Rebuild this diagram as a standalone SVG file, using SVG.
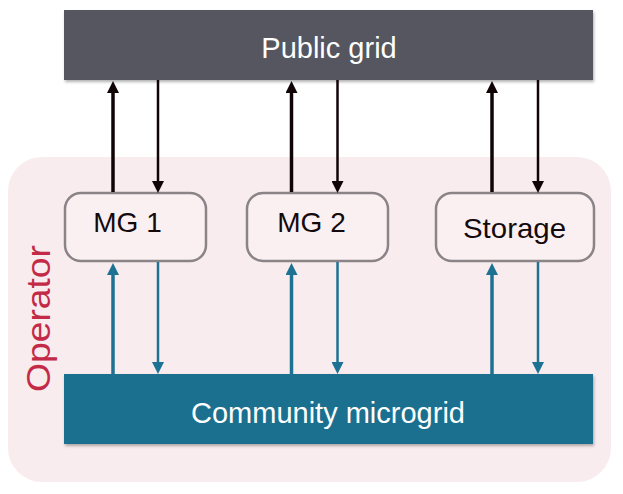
<svg xmlns="http://www.w3.org/2000/svg" width="623" height="494" viewBox="0 0 623 494">
<defs>
<style>
.bar{filter:url(#sh)}
.box{fill:#fbf0f1;stroke:#8a8488;stroke-width:2.5}
.lbl{font-family:"Liberation Sans",Arial,sans-serif;text-anchor:middle}
.w{fill:#ffffff;font-size:29px}
.k{fill:#140a0e;font-size:28px}
.blk{stroke:#100407;fill:none}
.tea{stroke:#1d7192;fill:none}
.up{stroke-width:3.5}
.dn{stroke-width:2.5}
</style>
<filter id="sh" x="-5%" y="-10%" width="110%" height="130%">
<feDropShadow dx="1" dy="2" stdDeviation="1.5" flood-color="#000" flood-opacity="0.3"/>
</filter>
<marker id="hb" viewBox="0 0 12 12" refX="0" refY="6" markerWidth="12" markerHeight="12" markerUnits="userSpaceOnUse" orient="auto">
<path d="M0,0 L12,6 L0,12 z" fill="#100407"/>
</marker>
<marker id="ht" viewBox="0 0 12 12" refX="0" refY="6" markerWidth="12" markerHeight="12" markerUnits="userSpaceOnUse" orient="auto">
<path d="M0,0 L12,6 L0,12 z" fill="#1d7192"/>
</marker>
</defs>
<rect width="623" height="494" fill="#ffffff"/>
<g id="operator">
<rect x="8" y="157" width="603" height="325" rx="34" ry="34" fill="#f9ecee"/>
<text class="lbl" transform="translate(50,318.5) rotate(-90)" font-size="34" fill="#c32a47" textLength="147" lengthAdjust="spacingAndGlyphs">Operator</text>
</g>
<g id="public-grid">
<rect class="bar" x="64" y="10" width="529" height="70" fill="#54575f"/>
<text class="lbl w" x="329" y="58">Public grid</text>
</g>
<g id="community-microgrid">
<rect class="bar" x="64" y="374" width="529" height="70" fill="#1a6f8f"/>
<text class="lbl w" x="328" y="423">Community microgrid</text>
</g>
<g id="mg1">
<rect class="box" x="65" y="193" width="141" height="68" rx="16" ry="16"/>
<text class="lbl k" x="127.5" y="232">MG 1</text>
</g>
<g id="mg2">
<rect class="box" x="247" y="193" width="141" height="68" rx="16" ry="16"/>
<text class="lbl k" x="311.5" y="232">MG 2</text>
</g>
<g id="storage">
<rect class="box" x="436" y="193" width="158" height="68" rx="16" ry="16"/>
<text class="lbl k" x="514.5" y="238" font-size="26" textLength="103" lengthAdjust="spacingAndGlyphs">Storage</text>
</g>
<g id="connectors">
<line class="blk up" x1="113" y1="192" x2="113" y2="93" marker-end="url(#hb)"/>
<line class="blk dn" x1="158" y1="80" x2="158" y2="181" marker-end="url(#hb)"/>
<line class="blk up" x1="291.5" y1="192" x2="291.5" y2="93" marker-end="url(#hb)"/>
<line class="blk dn" x1="337.5" y1="80" x2="337.5" y2="181" marker-end="url(#hb)"/>
<line class="blk up" x1="492" y1="192" x2="492" y2="93" marker-end="url(#hb)"/>
<line class="blk dn" x1="538" y1="80" x2="538" y2="181" marker-end="url(#hb)"/>
<line class="tea up" x1="113" y1="374" x2="113" y2="275" marker-end="url(#ht)"/>
<line class="tea dn" x1="158" y1="262" x2="158" y2="362" marker-end="url(#ht)"/>
<line class="tea up" x1="291.5" y1="374" x2="291.5" y2="275" marker-end="url(#ht)"/>
<line class="tea dn" x1="337.5" y1="262" x2="337.5" y2="362" marker-end="url(#ht)"/>
<line class="tea up" x1="492" y1="374" x2="492" y2="275" marker-end="url(#ht)"/>
<line class="tea dn" x1="538" y1="262" x2="538" y2="362" marker-end="url(#ht)"/>
</g>
</svg>
